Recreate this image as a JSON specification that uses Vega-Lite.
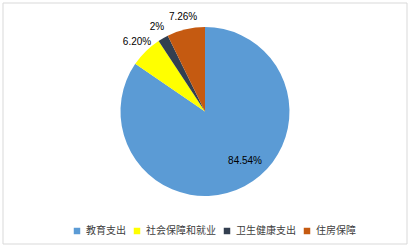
{
  "$schema": "https://vega.github.io/schema/vega-lite/v6.json",
  "width": 404,
  "height": 241,
  "autosize": {"type": "none"},
  "padding": {"left": 3, "top": 3, "right": 6, "bottom": 7},
  "background": "white",
  "config": {
    "view": {"stroke": null},
    "font": "Noto Sans CJK SC"
  },
  "layer": [
    {
      "data": {"values": [{}]},
      "mark": {"type": "rect", "fill": null, "stroke": "#d9d9d9", "strokeWidth": 1},
      "encoding": {}
    },
    {
      "data": {
        "values": [
          {"category": "教育支出", "share": 84.54, "label": "84.54%"},
          {"category": "社会保障和就业", "share": 6.20, "label": "6.20%"},
          {"category": "卫生健康支出", "share": 2, "label": "2%"},
          {"category": "住房保障", "share": 7.26, "label": "7.26%"}
        ]
      },
      "transform": [{"window": [{"op": "row_number", "as": "idx"}]}],
      "encoding": {
        "theta": {"field": "share", "type": "quantitative", "stack": true},
        "order": {"field": "idx", "type": "quantitative"}
      },
      "layer": [
        {
          "mark": {"type": "arc", "outerRadius": 84.5, "yOffset": -12},
          "encoding": {
            "color": {
              "field": "category",
              "type": "nominal",
              "sort": null,
              "scale": {
                "domain": ["教育支出", "社会保障和就业", "卫生健康支出", "住房保障"],
                "range": ["#5B9BD5", "#FFFF00", "#333F50", "#C55A11"]
              },
              "legend": {
                "orient": "none",
                "legendX": 69,
                "legendY": 223,
                "direction": "horizontal",
                "columns": 4,
                "title": null,
                "symbolType": "square",
                "symbolSize": 42,
                "symbolStrokeWidth": 0,
                "labelFontSize": 10,
                "labelColor": "#404040",
                "labelOffset": 4,
                "columnPadding": 6
              }
            }
          }
        },
        {
          "mark": {"type": "text", "radius": 97, "yOffset": -12, "fontSize": 10, "color": "#000000", "font": "Liberation Sans"},
          "encoding": {
            "text": {"field": "label", "condition": {"test": "datum.idx === 1", "value": ""}}
          }
        },
        {
          "mark": {"type": "text", "radius": 64, "thetaOffset": -0.19, "yOffset": -12, "fontSize": 10, "color": "#000000", "font": "Liberation Sans"},
          "encoding": {
            "text": {"field": "label", "condition": {"test": "datum.idx !== 1", "value": ""}}
          }
        }
      ]
    }
  ]
}
